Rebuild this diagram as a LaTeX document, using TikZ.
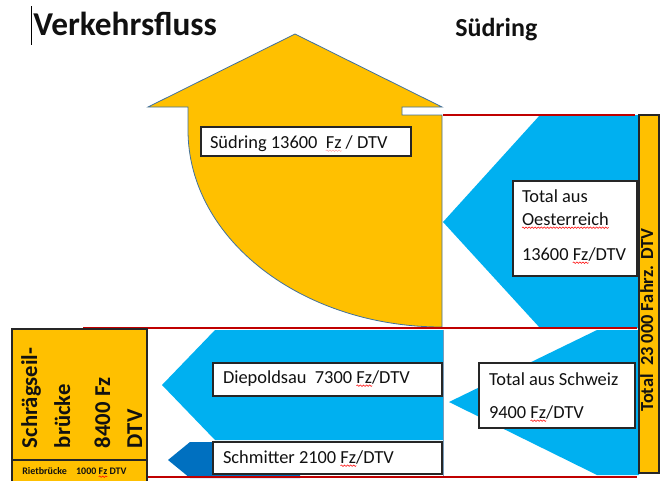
\documentclass[tikz,border=0pt]{standalone}
\usepackage{fontspec}
\setmainfont{Carlito}
\usetikzlibrary{decorations.pathmorphing,fit}
\definecolor{gold}{HTML}{FFC000}
\definecolor{sky}{HTML}{00B0F0}
\definecolor{deepblue}{HTML}{0070C0}
\definecolor{redline}{HTML}{C00000}
\definecolor{outl}{HTML}{41719C}
\definecolor{inkc}{HTML}{111111}
\newcommand\wavy[2][red]{\tikz[baseline=(w.base)]{\node[draw=none,fill=none,inner sep=0pt,outer sep=0pt,minimum width=0pt,minimum height=0pt,anchor=base west] (w) at (0,0) {#2};\draw[overlay,#1,line width=0.4pt,decorate,decoration={snake,amplitude=0.55pt,segment length=2.3pt}] ([yshift=-2pt]w.base west) -- ([yshift=-2pt]w.base east);}}
\begin{document}
\begin{tikzpicture}[x=0.75pt,y=-0.75pt,
  txt/.style={inner sep=0pt,outer sep=0pt,font=\fontsize{13.8}{16}\selectfont,text=inkc},
  btxt/.style={inner sep=0pt,outer sep=0pt,font=\fontsize{13.8}{16}\selectfont\bfseries,text=inkc},
  ytxt/.style={inner sep=0pt,outer sep=0pt,font=\fontsize{17}{20}\selectfont\bfseries,text=inkc,rotate=90,anchor=base west},
  box/.style={draw=black!85,fill=white,line width=0.8pt,inner sep=0pt},
  ybox/.style={draw=black!85,fill=gold,line width=0.8pt,inner sep=0pt},
  redl/.style={draw=redline,line width=1.4pt}]
\useasboundingbox (0,0) rectangle (661,480);

% title
\draw[line width=0.6pt] (31.5,6) -- (31.5,45);
\node[anchor=base west,inner sep=0pt,font=\fontsize{25}{29}\selectfont\bfseries,text=inkc] (title) at (33,35) {Verkehrsfluss};
\node[anchor=base west,inner sep=0pt,font=\fontsize{19.5}{23}\selectfont\bfseries,text=inkc] (sud) at (455,36) {Südring};

% blue arrows
\fill[sky] (540,115) -- (639,115) -- (639,328) -- (540,328) -- (443,222) -- cycle;
\fill[sky] (215,330) -- (443,330) -- (443,440) -- (215,440) -- (162,385) -- cycle;
\fill[deepblue] (190,442) -- (300,442) -- (300,478) -- (190,478) -- (168,460) -- cycle;
\fill[sky] (449,402) -- (597,330) -- (639,330) -- (639,475) -- (597,475) -- cycle;
\draw[outl!70,line width=0.5pt] (443,330) -- (443,477);

% yellow curved up arrow
\draw[fill=gold,draw=outl,line width=0.6pt] (295,34) -- (442,107) -- (402,107) -- (402,115) -- (442,115) -- (442,327)
  arc[start angle=90,end angle=180,x radius=254,y radius=197] -- (188,107) -- (148,107) -- cycle;

% red lines
\draw[redl] (443,115) -- (635,115);
\draw[redl] (83,328) -- (637,328);
\draw[redl] (147,477) -- (637,477);

% left yellow box
\node[ybox,fit={(12,329) (147,460)}] (sbridge) {};
\node[ybox,fit={(12,460) (147,486)}] (rbridge) {};
\node[ytxt] (sb1) at (37,448) {Schrägseil-};
\node[ytxt] (sb2) at (70,448) {brücke};
\node[ytxt] (sb3) at (110,448) {8400 Fz};
\node[ytxt] (sb4) at (142,448) {DTV};
\node[inner sep=0pt,anchor=base west,font=\fontsize{7.5}{9}\selectfont\bfseries,text=inkc] (rb) at (22,474) {Rietbrücke\hspace{7pt}1000 \wavy{Fz} DTV};

% text boxes
\node[box,fit={(201,127) (411,156)}] (sbox) {};
\node[txt,anchor=base west] (stxt) at (210,148) {Südring 13600\ \ \wavy[red!35]{Fz} / DTV};

\node[box,fit={(513,181) (637,276)}] (oebox) {};
\node[txt,anchor=base west] (oe1) at (522,202) {Total aus};
\node[txt,anchor=base west] (oe2) at (522,225) {\wavy{Oesterreich}};
\node[txt,anchor=base west] (oe3) at (522,260) {13600 \wavy{Fz}/DTV};

\node[box,fit={(213,363) (442,396)}] (diebox) {};
\node[txt,anchor=base west] (dietxt) at (223,383) {Diepoldsau\ \ 7300 \wavy{Fz}/DTV};

\node[box,fit={(213,442) (442,474)}] (schbox) {};
\node[txt,anchor=base west] (schtxt) at (223,463) {Schmitter 2100 \wavy{Fz}/DTV};

\node[box,fit={(479,363) (635,428)}] (chbox) {};
\node[txt,anchor=base west] (ch1) at (489,385) {Total aus Schweiz};
\node[txt,anchor=base west] (ch2) at (489,418) {9400 \wavy{Fz}/DTV};

% total bar
\node[ybox,fit={(639,115) (659,473)}] (totbar) {};
\node[btxt,rotate=90,anchor=base] (tottxt) at (653,320) {Total\ \ 23 000 Fahrz. DTV};
\end{tikzpicture}
\end{document}
